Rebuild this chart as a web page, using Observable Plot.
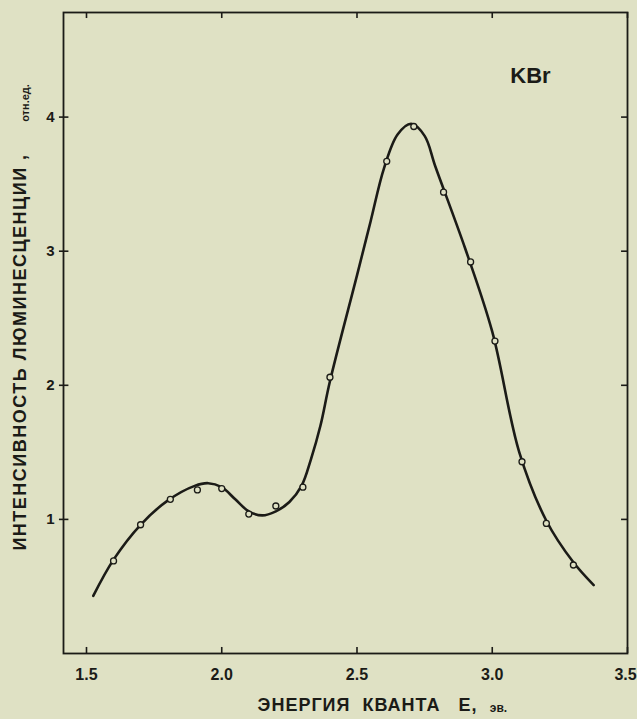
<!DOCTYPE html>
<html>
<head>
<meta charset="utf-8">
<script src="https://cdn.jsdelivr.net/npm/d3@7"></script>
<script src="https://cdn.jsdelivr.net/npm/@observablehq/plot@0.6"></script>
<style>
  html, body { margin: 0; padding: 0; background: #dfe1c4; }
  #chart svg { display: block; }
</style>
</head>
<body>
<div id="chart"></div>
<script>
// measured points (open circles)
const energy    = [1.60, 1.70, 1.81, 1.91, 2.00, 2.10, 2.20, 2.30, 2.40, 2.61, 2.71, 2.82, 2.92, 3.01, 3.11, 3.20, 3.30];
const intensity = [0.69, 0.96, 1.15, 1.22, 1.23, 1.04, 1.10, 1.24, 2.06, 3.67, 3.93, 3.44, 2.92, 2.33, 1.43, 0.97, 0.66];

// smooth fitted curve
const curveE = [1.525, 1.6, 1.7, 1.8, 1.9, 1.95, 2.0, 2.05, 2.1, 2.15, 2.2, 2.25, 2.295, 2.33, 2.365, 2.4, 2.5, 2.55, 2.6, 2.65, 2.7, 2.75, 2.79, 2.9, 3.0, 3.1, 3.2, 3.3, 3.375];
const curveI = [0.43, 0.70, 0.96, 1.14, 1.25, 1.27, 1.24, 1.15, 1.06, 1.03, 1.06, 1.13, 1.25, 1.45, 1.70, 2.03, 2.82, 3.22, 3.62, 3.87, 3.95, 3.86, 3.63, 3.02, 2.40, 1.50, 0.99, 0.68, 0.51];

// ticks and labels
const xTicks = [1.5, 2.0, 2.5, 3.0, 3.5];
const yTicks = [1, 2, 3, 4];
const sampleLabel = "KBr";
const yLabelMain = "ИНТЕНСИВНОСТЬ ЛЮМИНЕСЦЕНЦИИ ,";
const yLabelUnit = "отн.ед.";
const xLabelMain = "ЭНЕРГИЯ  КВАНТА   Е,";
const xLabelUnit = "эв.";

const bg = "#dfe1c4";
const ink = "#1b1b17";
const font = "'Liberation Sans', Arial, sans-serif";

const points = energy.map((e, i) => ({e, v: intensity[i]}));
const curve = curveE.map((e, i) => ({e, v: curveI[i]}));
const xDomain = [1.415, 3.5];
const yDomain = [0, 4.78];

const chart = Plot.plot({
  width: 637,
  height: 719,
  marginLeft: 63,
  marginRight: 10,
  marginTop: 12,
  marginBottom: 66,
  style: {background: bg, fontFamily: font, fontWeight: "bold", color: ink, overflow: "visible"},
  x: {domain: xDomain},
  y: {domain: yDomain},
  marks: [
    // inward tick marks on all four sides
    Plot.ruleX(xTicks, {x: d => d, y1: yDomain[0], y2: yDomain[0] + 0.045, stroke: ink, strokeWidth: 1.6}),
    Plot.ruleX(xTicks, {x: d => d, y1: yDomain[1] - 0.045, y2: yDomain[1], stroke: ink, strokeWidth: 1.6}),
    Plot.ruleY(yTicks, {y: d => d, x1: xDomain[0] - 0.015, x2: xDomain[0] + 0.02, stroke: ink, strokeWidth: 1.6}),
    Plot.ruleY(yTicks, {y: d => d, x1: xDomain[1] - 0.022, x2: xDomain[1], stroke: ink, strokeWidth: 1.6}),
    Plot.frame({stroke: ink, strokeWidth: 1.8}),
    Plot.axisX(xTicks.slice(0, -1), {anchor: "bottom", tickSize: 0, tickPadding: 15, tickFormat: d3.format(".1f"), fontSize: 16, fontWeight: "bold", label: null}),
    Plot.axisX(xTicks.slice(-1), {anchor: "bottom", tickSize: 0, tickPadding: 15, dx: -2, tickFormat: d3.format(".1f"), fontSize: 16, fontWeight: "bold", label: null}),
    Plot.axisY(yTicks, {anchor: "left", tickSize: 0, tickPadding: 9, tickFormat: d3.format("d"), fontSize: 15, fontWeight: "bold", label: null}),
    Plot.line(curve, {x: "e", y: "v", curve: "catmull-rom", stroke: ink, strokeWidth: 2.6}),
    Plot.dot(points, {x: "e", y: "v", r: 3, stroke: ink, strokeWidth: 1.3, fill: bg}),
    Plot.text([sampleLabel], {frameAnchor: "top-right", dx: -97, dy: 55, fontSize: 22, fontWeight: "bold", fill: ink, textAnchor: "middle"}),
    Plot.text([yLabelMain], {frameAnchor: "left", dx: -43, dy: 19, rotate: -90, fontSize: 18, fontWeight: "bold", fill: ink, textAnchor: "middle"}),
    Plot.text([yLabelUnit], {frameAnchor: "left", dx: -38, dy: -230, rotate: -90, fontSize: 11, fontWeight: "bold", fill: ink, textAnchor: "middle"}),
    Plot.text([xLabelMain], {frameAnchor: "bottom", dx: 22, dy: 57, fontSize: 18, fontWeight: "bold", fill: ink, textAnchor: "middle"}),
    Plot.text([xLabelUnit], {frameAnchor: "bottom", dx: 153, dy: 58, fontSize: 12, fontWeight: "bold", fill: ink, textAnchor: "middle"})
  ]
});
// widen the letter spacing of the two axis titles, as in the print
d3.select(chart).selectAll("text").each(function() {
  const t = this.textContent;
  if (t === yLabelMain) this.setAttribute("letter-spacing", "1.5");
  if (t === xLabelMain) this.setAttribute("letter-spacing", "1");
});
document.getElementById("chart").appendChild(chart);
</script>
</body>
</html>
